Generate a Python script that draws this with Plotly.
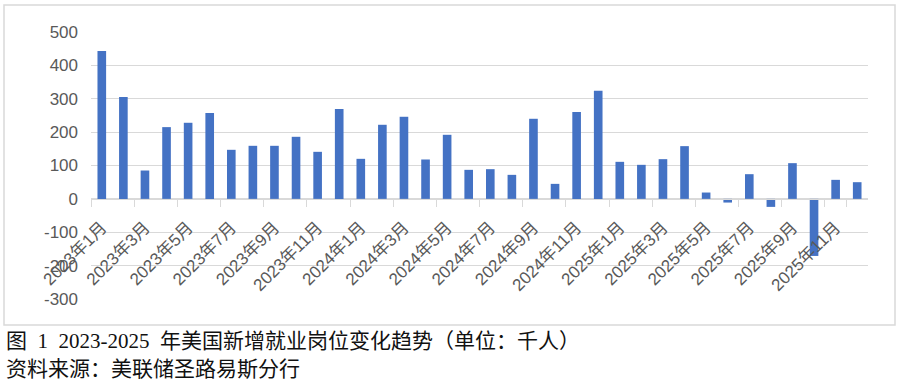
import plotly.graph_objects as go

months = [f"{y}年{m}月" for y in (2023, 2024, 2025) for m in range(1, 13)]
jobs = [443, 305, 85, 215, 228, 257, 147, 159, 159, 186, 141, 269,
        120, 222, 246, 118, 192, 87, 89, 72, 240, 45, 260, 324,
        111, 102, 119, 158, 19, -11, 74, -24, 107, -171, 57, 50]
ytick_vals = [-300, -200, -100, 0, 100, 200, 300, 400, 500]
ytick_text = ["-300", "-200", "-100", "0", "100", "200", "300", "400", "500"]
caption1 = "图\u20021\u20022023-2025\u2002年美国新增就业岗位变化趋势（单位：千人）"
caption2 = "资料来源：美联储圣路易斯分行"

GRAY = "#d9d9d9"
TXT = "#595959"
FONT = "Liberation Sans, Noto Sans CJK SC, sans-serif"

L, R, T, B = 91, 32, 32, 83
W, H = 900, 382
pw, ph = W - L - R, H - T - B

def px_x(x):
    return (x - L) / pw

def px_y(y):
    return (H - B - y) / ph

fig = go.Figure(go.Bar(x=months, y=jobs, marker_color="#4472C4", marker_line_width=0))

fig.update_layout(
    width=W, height=H,
    margin=dict(l=L, r=R, t=T, b=B, autoexpand=False),
    plot_bgcolor="white", paper_bgcolor="white",
    bargap=0.6,
    showlegend=False,
    font=dict(family=FONT, color=TXT),
)
fig.update_xaxes(
    type="category",
    tickmode="array", tickvals=months[::2], ticktext=months[::2],
    tickson="boundaries",
    ticks="outside", ticklen=7, tickcolor=GRAY, tickwidth=1,
    showline=True, linecolor=GRAY, linewidth=1,
    showgrid=False,
    tickangle=-45,
    ticklabelstandoff=11,
    tickfont=dict(size=17, color=TXT, family=FONT),
    anchor="free", position=0.375,
    automargin=False,
)
fig.update_yaxes(
    range=[-300, 500],
    tickmode="array", tickvals=ytick_vals, ticktext=ytick_text,
    showgrid=True, gridcolor=GRAY, gridwidth=1,
    zeroline=False, showline=False,
    ticks="", ticklabelstandoff=12,
    tickfont=dict(size=17, color=TXT, family=FONT),
    automargin=False,
)

fig.add_shape(type="rect", xref="paper", yref="paper",
              x0=px_x(4), x1=px_x(895), y0=px_y(325), y1=px_y(5),
              line=dict(color=GRAY, width=1.5), fillcolor="rgba(0,0,0,0)", layer="below")

cap_font = dict(family="Liberation Serif, Noto Sans CJK SC, serif", size=21, color="#111111")
fig.add_annotation(text=caption1, xref="paper", yref="paper", x=px_x(4), y=px_y(341),
                   xanchor="left", yanchor="middle", showarrow=False, font=cap_font)
fig.add_annotation(text=caption2, xref="paper", yref="paper", x=px_x(4), y=px_y(369),
                   xanchor="left", yanchor="middle", showarrow=False, font=cap_font)

fig.write_html("out.html", config={"displayModeBar": False},
               post_script="document.body.style.margin='0';document.body.style.overflow='hidden';")
